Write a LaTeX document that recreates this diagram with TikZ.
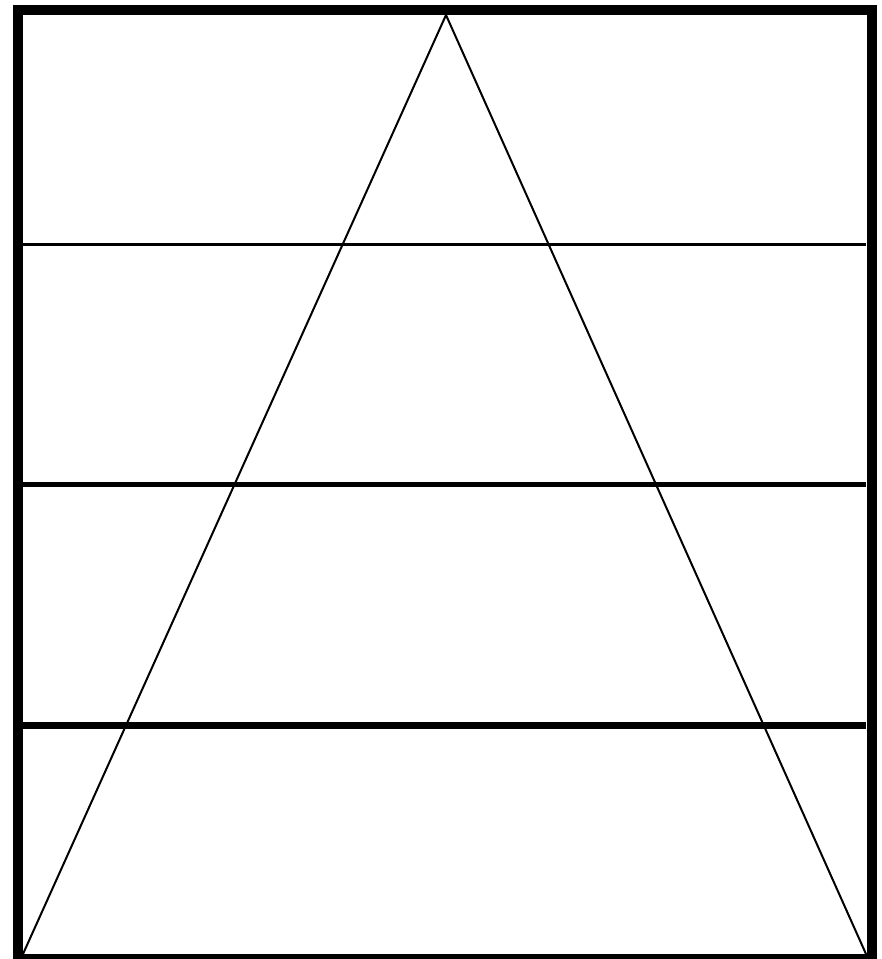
\documentclass[tikz,border=0pt]{standalone}
\begin{document}
\begin{tikzpicture}[x=1pt,y=-1pt,
  frame/.style={draw=black,line width=10pt},
  thinrule/.style={draw=black,line width=2.6pt},
  midrule/.style={draw=black,line width=4.6pt},
  thickrule/.style={draw=black,line width=7pt},
  side/.style={draw=black,line width=2pt,line join=miter}]
\useasboundingbox (0,0) rectangle (882,959);
\fill[white] (0,0) rectangle (882,959);
\coordinate (apex) at (446,15);
\coordinate (bl) at (23,954);
\coordinate (br) at (866,954);
\draw[thinrule] (23,244.5) -- (866,244.5);
\draw[midrule] (23,484.5) -- (866,484.5);
\draw[thickrule] (23,725) -- (866,725);
\draw[side] (bl) -- (apex) -- (br);
\draw[frame] (18,10) rectangle (871.5,959);
\end{tikzpicture}
\end{document}
